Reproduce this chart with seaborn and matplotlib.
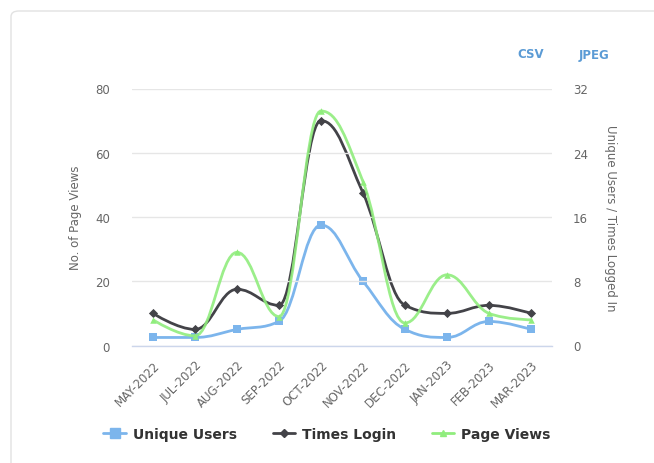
import numpy as np
import pandas as pd
import seaborn as sns
import matplotlib.pyplot as plt
from matplotlib.path import Path
from matplotlib.patches import PathPatch, FancyBboxPatch
from matplotlib.lines import Line2D

months = ["MAY-2022", "JUL-2022", "AUG-2022", "SEP-2022", "OCT-2022",
          "NOV-2022", "DEC-2022", "JAN-2023", "FEB-2023", "MAR-2023"]
unique_users = [1, 1, 2, 3, 15, 8, 2, 1, 3, 2]
times_login = [4, 2, 7, 5, 28, 19, 5, 4, 5, 4]
page_views = [8, 3, 29, 9, 73, 51, 7, 22, 10, 8]

left_ticks = [0, 20, 40, 60, 80]
right_ticks = [0, 8, 16, 24, 32]

c_users = "#7cb5ec"
c_login = "#434348"
c_views = "#90ed7d"
grey = "#666666"

df = pd.DataFrame({"month": months, "pos": np.arange(len(months)),
                   "users": unique_users, "login": times_login, "views": page_views})


def spline_path(xs, ys, smoothing=1.5):
    # highcharts style spline through the points
    xs = list(map(float, xs))
    ys = list(map(float, ys))
    n = len(xs)
    denom = smoothing + 1
    rc = [None] * n
    lc = [None] * n
    for i in range(1, n - 1):
        x, y = xs[i], ys[i]
        lx, ly = xs[i - 1], ys[i - 1]
        nx, ny = xs[i + 1], ys[i + 1]
        lcx = (smoothing * x + lx) / denom
        lcy = (smoothing * y + ly) / denom
        rcx = (smoothing * x + nx) / denom
        rcy = (smoothing * y + ny) / denom
        corr = (rcy - lcy) * (rcx - x) / (rcx - lcx) + y - rcy
        lcy += corr
        rcy += corr
        if lcy > ly and lcy > y:
            lcy = max(ly, y)
            rcy = 2 * y - lcy
        elif lcy < ly and lcy < y:
            lcy = min(ly, y)
            rcy = 2 * y - lcy
        if rcy > ny and rcy > y:
            rcy = max(ny, y)
            lcy = 2 * y - rcy
        elif rcy < ny and rcy < y:
            rcy = min(ny, y)
            lcy = 2 * y - rcy
        lc[i] = (lcx, lcy)
        rc[i] = (rcx, rcy)
    verts = [(xs[0], ys[0])]
    codes = [Path.MOVETO]
    for i in range(1, n):
        c1 = rc[i - 1] if rc[i - 1] else (xs[i - 1], ys[i - 1])
        c2 = lc[i] if lc[i] else (xs[i], ys[i])
        verts += [c1, c2, (xs[i], ys[i])]
        codes += [Path.CURVE4] * 3
    return Path(verts, codes)


sns.set_theme(style="white")
plt.rcParams['font.family'] = ['DejaVu Sans']

W, H = 654, 464
fig = plt.figure(figsize=(W / 100, H / 100), dpi=100)

# card
card = FancyBboxPatch((11 / W, -20 / H), (W + 20) / W, (H - 12 + 20) / H,
                      boxstyle="round,pad=0,rounding_size=0.012",
                      transform=fig.transFigure, facecolor="white",
                      edgecolor="#e2e2e2", linewidth=1.0, zorder=-5)
fig.patches.append(card)

x0, x1, y0, y1 = 132, 552, 89.5, 346.5
ax = fig.add_axes([x0 / W, 1 - y1 / H, (x1 - x0) / W, (y1 - y0) / H])
ax2 = ax.twinx()
ax2.set_zorder(1)
ax.set_zorder(2)
ax.patch.set_visible(False)
ax2.patch.set_visible(False)

ax.set_xlim(-0.5, len(months) - 0.5)
ax.set_ylim(0, 80)
ax2.set_ylim(0, 32)

for a in (ax, ax2):
    for s in a.spines.values():
        s.set_visible(False)
ax.spines["bottom"].set_visible(True)
ax.spines["bottom"].set_color("#ccd6eb")
ax.spines["bottom"].set_linewidth(1.0)

ax.set_yticks(left_ticks)
ax2.set_yticks(right_ticks)
ax.yaxis.grid(True, color="#e6e6e6", linewidth=1.0)
ax.set_axisbelow(True)
ax.tick_params(axis="y", length=0, labelsize=8.5, labelcolor=grey, pad=16)
ax2.tick_params(axis="y", length=0, labelsize=8.5, labelcolor=grey, pad=15)
ax.set_xticks(df["pos"])
ax.set_xticklabels(months, rotation=45, ha="right", rotation_mode="anchor")
ax.tick_params(axis="x", length=0, labelsize=8.5, labelcolor=grey, pad=9)

ax.set_ylabel("No. of Page Views", fontsize=8.5, color=grey, labelpad=9)
ax2.set_ylabel("Unique Users / Times Logged In", fontsize=8.5, color=grey,
               rotation=270, labelpad=21)

# lines: users & login on right axis, views on left axis
ax2.add_patch(PathPatch(spline_path(df["pos"], df["users"]), fill=False,
                        edgecolor=c_users, linewidth=2, zorder=2))
ax2.add_patch(PathPatch(spline_path(df["pos"], df["login"]), fill=False,
                        edgecolor=c_login, linewidth=2, zorder=3))
ax.add_patch(PathPatch(spline_path(df["pos"], df["views"]), fill=False,
                       edgecolor=c_views, linewidth=2, alpha=0.9, zorder=4))

sns.scatterplot(data=df, x="pos", y="users", ax=ax2, marker="s", s=40,
                color=c_users, edgecolor=c_users, linewidth=0, zorder=5)
sns.scatterplot(data=df, x="pos", y="login", ax=ax2, marker="D", s=22,
                color=c_login, edgecolor=c_login, linewidth=0, zorder=6)
sns.scatterplot(data=df, x="pos", y="views", ax=ax, marker="^", s=22,
                color=c_views, edgecolor=c_views, linewidth=0, zorder=7)
ax.set_xlabel("")
ax2.set_xlabel("")
ax2.set_xlim(-0.5, len(months) - 0.5)

handles = [
    Line2D([], [], color=c_users, lw=2, marker="s", markersize=7),
    Line2D([], [], color=c_login, lw=2, marker="D", markersize=4.5),
    Line2D([], [], color=c_views, lw=2, marker="^", markersize=5),
]
leg = fig.legend(handles, ["Unique Users", "Times Login", "Page Views"],
                 loc="center", bbox_to_anchor=(0.5, 1 - 435 / H), ncol=3,
                 frameon=False, handlelength=1.6, handletextpad=0.5,
                 columnspacing=2.6, prop={"weight": "bold", "size": 10})
for t in leg.get_texts():
    t.set_color("#333333")

fig.text(531 / W, 1 - 55 / H, "CSV", fontsize=8.5, fontweight="bold",
         color="#5b9bd5", ha="center", va="center")
fig.text(594 / W, 1 - 55 / H, "JPEG", fontsize=8.5, fontweight="bold",
         color="#5b9bd5", ha="center", va="center")

fig.savefig("out.png", dpi=100)
